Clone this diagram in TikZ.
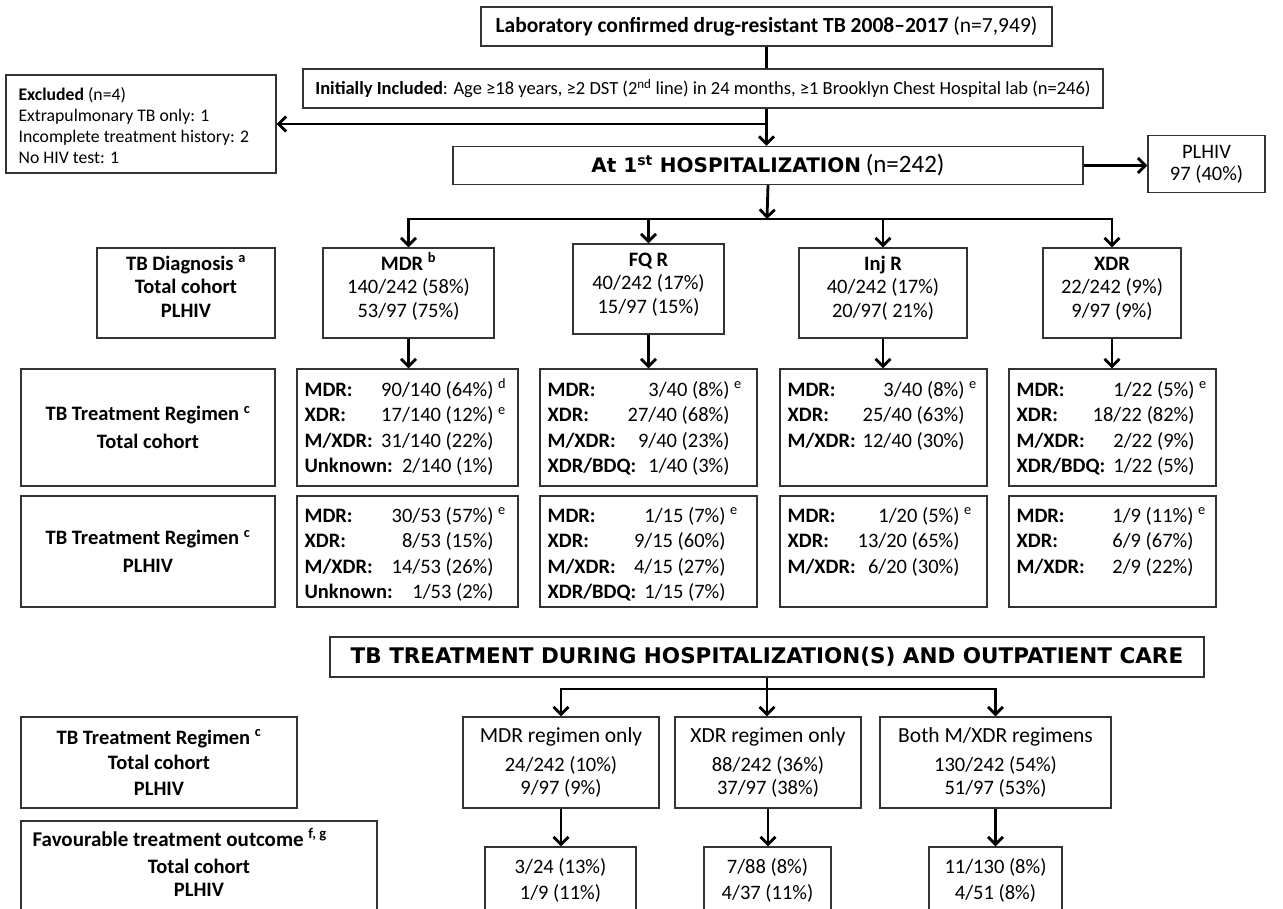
\documentclass[tikz,border=0pt]{standalone}
\usepackage{fontspec}
\setmainfont{Carlito}
\newfontfamily\blackfont{DejaVu Sans}
\usetikzlibrary{arrows.meta}
\newcommand\tabL[1]{\begin{tabular}[t]{@{}l@{}}#1\end{tabular}}
\newcommand\tabC[1]{\begin{tabular}[t]{@{}c@{}}#1\end{tabular}}
\newcommand\rgl[3]{\makebox[#1pt]{\textbf{#2}\hfill #3}}
\newcommand\rgs[4]{\rgl{#1}{#2}{#3}\rlap{\ \textsuperscript{#4}}}
\newcommand\fsb{\fontsize{20.5}{23.5}\selectfont}
\newcommand\fsr{\fontsize{20.5}{25.5}\selectfont}
\newcommand\fsl{\fontsize{20.5}{28}\selectfont}
\newcommand\fst{\fontsize{21.5}{23.5}\selectfont}
\newcommand\fsh{\blackfont\bfseries\fontsize{20}{22}\selectfont}
\newcommand\fsH{\blackfont\bfseries\fontsize{21.5}{23}\selectfont}
\begin{document}
\begin{tikzpicture}[x=1pt,y=-1pt,
  bx/.style={draw=black!80, line width=1.2pt, inner sep=0pt, align=center, font=\fsb},
  txt/.style={inner sep=0pt, font=\fsb},
  rtxt/.style={inner sep=0pt, font=\fsr, anchor=base west},
  ln/.style={line width=2.8pt},
  arr/.style={ln, -{Straight Barb[length=7.5pt,width=15pt]}}]
\useasboundingbox (0,0) rectangle (1283,909);

% top part
\node[bx, minimum width=571, minimum height=39, font=\fontsize{21.5}{24}\selectfont] (lab) at (766.5,26.5) {\textbf{Laboratory confirmed drug-resistant TB 2008–2017} (n=7,949)};
\node[bx, minimum width=800, minimum height=39, font=\fontsize{18.5}{22}\selectfont] (incl) at (703,88.5) {\textbf{Initially Included}: Age ≥18 years, ≥2 DST (2\textsuperscript{nd} line) in 24 months, ≥1 Brooklyn Chest Hospital lab (n=246)};
\node[bx, minimum width=270, minimum height=98] (exc) at (141,124) {};
\node[txt, anchor=base west, font=\fontsize{17.7}{21}\selectfont] (exct) at ([shift={(13,26)}]exc.north west) {\tabL{\textbf{Excluded} (n=4)\\Extrapulmonary TB only: 1\\Incomplete treatment history: 2\\No HIV test: 1}};
\node[bx, minimum width=630, minimum height=38] (hosp) at (768,165.5) {{\fsh At 1\textsuperscript{st} HOSPITALIZATION}\ {\fontsize{25}{25}\selectfont (n=242)}};
\node[bx, minimum width=117, minimum height=57, font=\fontsize{20.5}{22}\selectfont] (plhiv) at (1206.5,164) {PLHIV\\97 (40\%)};

\draw[ln] (lab.south) -- (lab.south |- incl.north);
\draw[arr] (lab.south |- incl.south) -- (lab.south |- hosp.north);
\draw[arr] (lab.south |- exc.east) -- (exc.east);
\draw[arr] (hosp.east) -- (hosp.east -| plhiv.west);

% diagnosis row
\coordinate (bar1) at (767,219);
\node[bx, minimum width=178, minimum height=90] (dlab) at (186,293) {};
\node[bx, minimum width=171, minimum height=90] (dmdr) at (408.5,293) {};
\node[bx, minimum width=151, minimum height=90] (dfq) at (648.5,289) {};
\node[bx, minimum width=168, minimum height=90] (dinj) at (883,293) {};
\node[bx, minimum width=138, minimum height=90] (dxdr) at (1112,293) {};
\node[txt, anchor=base] (dlabt) at ([yshift=-23pt]dlab.north) {\tabC{\textbf{TB Diagnosis \textsuperscript{a}}\\\textbf{Total cohort}\\\textbf{PLHIV}}};
\node[txt, anchor=base] (dmdrt) at ([yshift=-23pt]dmdr.north) {\tabC{\textbf{MDR \textsuperscript{b}}\\140/242 (58\%)\\53/97 (75\%)}};
\node[txt, anchor=base] (dfqt) at ([yshift=-23pt]dfq.north) {\tabC{\textbf{FQ R}\\40/242 (17\%)\\15/97 (15\%)}};
\node[txt, anchor=base] (dinjt) at ([yshift=-23pt]dinj.north) {\tabC{\textbf{Inj R}\\40/242 (17\%)\\20/97( 21\%)}};
\node[txt, anchor=base] (dxdrt) at ([yshift=-23pt]dxdr.north) {\tabC{\textbf{XDR}\\22/242 (9\%)\\9/97 (9\%)}};

\draw[arr] (hosp.south) -- (bar1);
\draw[arr] (bar1) -| (dmdr.north);
\draw[arr] (bar1) -| (dfq.north);
\draw[arr] (bar1) -| (dinj.north);
\draw[arr] (bar1) -| (dxdr.north);

% regimen row, total cohort
\node[bx, minimum width=254, minimum height=117, font=\fsl] (rlab2) at (148,427.5) {\textbf{TB Treatment Regimen \textsuperscript{c}}\\\textbf{Total cohort}};
\node[bx, minimum width=221, minimum height=117] (rmdr2) at (407.5,427.5) {};
\node[bx, minimum width=217, minimum height=117] (rfq2) at (648.5,427.5) {};
\node[bx, minimum width=207, minimum height=117] (rinj2) at (883.5,427.5) {};
\node[bx, minimum width=207, minimum height=117] (rxdr2) at (1112.5,427.5) {};
\node[rtxt] (rmdr2t) at ([shift={(8,28)}]rmdr2.north west) {\tabL{\rgs{189}{MDR:}{90/140 (64\%)}{d}\\\rgs{189}{XDR:}{17/140 (12\%)}{e}\\\rgl{189}{M/XDR:}{31/140 (22\%)}\\\rgl{189}{Unknown:}{2/140 (1\%)}}};
\node[rtxt] (rfq2t) at ([shift={(8,28)}]rfq2.north west) {\tabL{\rgs{182}{MDR:}{3/40 (8\%)}{e}\\\rgl{182}{XDR:}{27/40 (68\%)}\\\rgl{182}{M/XDR:}{9/40 (23\%)}\\\rgl{182}{XDR/BDQ:}{1/40 (3\%)}}};
\node[rtxt] (rinj2t) at ([shift={(8,28)}]rinj2.north west) {\tabL{\rgs{177}{MDR:}{3/40 (8\%)}{e}\\\rgl{177}{XDR:}{25/40 (63\%)}\\\rgl{177}{M/XDR:}{12/40 (30\%)}}};
\node[rtxt] (rxdr2t) at ([shift={(8,28)}]rxdr2.north west) {\tabL{\rgs{178}{MDR:}{1/22 (5\%)}{e}\\\rgl{178}{XDR:}{18/22 (82\%)}\\\rgl{178}{M/XDR:}{2/22 (9\%)}\\\rgl{178}{XDR/BDQ:}{1/22 (5\%)}}};

\draw[arr] (dmdr.south) -- (dmdr.south |- rmdr2.north);
\draw[arr] (dfq.south) -- (dfq.south |- rfq2.north);
\draw[arr] (dinj.south) -- (dinj.south |- rinj2.north);
\draw[arr] (dxdr.south) -- (dxdr.south |- rxdr2.north);

% regimen row, PLHIV
\node[bx, minimum width=254, minimum height=111, font=\fsl] (rlab3) at (148,551.5) {\textbf{TB Treatment Regimen \textsuperscript{c}}\\\textbf{PLHIV}};
\node[bx, minimum width=221, minimum height=111] (rmdr3) at (407.5,551.5) {};
\node[bx, minimum width=217, minimum height=111] (rfq3) at (648.5,551.5) {};
\node[bx, minimum width=207, minimum height=111] (rinj3) at (883.5,551.5) {};
\node[bx, minimum width=207, minimum height=111] (rxdr3) at (1112.5,551.5) {};
\node[rtxt] (rmdr3t) at ([shift={(8,27)}]rmdr3.north west) {\tabL{\rgs{189}{MDR:}{30/53 (57\%)}{e}\\\rgl{189}{XDR:}{8/53 (15\%)}\\\rgl{189}{M/XDR:}{14/53 (26\%)}\\\rgl{189}{Unknown:}{1/53 (2\%)}}};
\node[rtxt] (rfq3t) at ([shift={(8,27)}]rfq3.north west) {\tabL{\rgs{178}{MDR:}{1/15 (7\%)}{e}\\\rgl{178}{XDR:}{9/15 (60\%)}\\\rgl{178}{M/XDR:}{4/15 (27\%)}\\\rgl{178}{XDR/BDQ:}{1/15 (7\%)}}};
\node[rtxt] (rinj3t) at ([shift={(8,27)}]rinj3.north west) {\tabL{\rgs{172}{MDR:}{1/20 (5\%)}{e}\\\rgl{172}{XDR:}{13/20 (65\%)}\\\rgl{172}{M/XDR:}{6/20 (30\%)}}};
\node[rtxt] (rxdr3t) at ([shift={(8,27)}]rxdr3.north west) {\tabL{\rgs{177}{MDR:}{1/9 (11\%)}{e}\\\rgl{177}{XDR:}{6/9 (67\%)}\\\rgl{177}{M/XDR:}{2/9 (22\%)}}};

% treatment during hospitalization
\node[bx, minimum width=874, minimum height=40] (tbt) at (767,657) {\fsH TB TREATMENT DURING HOSPITALIZATION(S) AND OUTPATIENT CARE};
\coordinate (bar2) at (767,689);
\node[bx, minimum width=276, minimum height=91, font=\fontsize{20.5}{25.5}\selectfont] (rlab5) at (159,762.5) {\textbf{TB Treatment Regimen \textsuperscript{c}}\\\textbf{Total cohort}\\\textbf{PLHIV}};
\node[bx, minimum width=196, minimum height=91] (mreg) at (561,762.5) {{\fst MDR regimen only}\\[5pt]24/242 (10\%)\\9/97 (9\%)};
\node[bx, minimum width=186, minimum height=91] (xreg) at (768,762.5) {{\fst XDR regimen only}\\[5pt]88/242 (36\%)\\37/97 (38\%)};
\node[bx, minimum width=231, minimum height=91] (breg) at (995.5,762.5) {{\fst Both M/XDR regimens}\\[5pt]130/242 (54\%)\\51/97 (53\%)};

\draw[arr] (tbt.south) -- (tbt.south |- xreg.north);
\draw[arr] (bar2) -| (mreg.north);
\draw[arr] (bar2) -| (breg.north);

% outcome row
\node[bx, minimum width=356, minimum height=120] (rlab6) at (199,881) {};
\node[txt, anchor=base west, font=\fontsize{21}{24}\selectfont] (rlab6a) at ([shift={(12,26)}]rlab6.north west) {\textbf{Favourable treatment outcome \textsuperscript{f, g}}};
\node[txt, anchor=base] (rlab6b) at ([yshift=-53pt]rlab6.north) {\tabC{\textbf{Total cohort}\\\textbf{PLHIV}}};
\node[bx, minimum width=151, minimum height=100] (o1) at (560.5,897) {};
\node[bx, minimum width=127, minimum height=100] (o2) at (767.5,897) {};
\node[bx, minimum width=133, minimum height=100] (o3) at (995.5,897) {};
\node[txt, anchor=base, font=\fontsize{20.5}{26}\selectfont] (o1t) at ([yshift=-27pt]o1.north) {\tabC{3/24 (13\%)\\1/9 (11\%)}};
\node[txt, anchor=base, font=\fontsize{20.5}{26}\selectfont] (o2t) at ([yshift=-27pt]o2.north) {\tabC{7/88 (8\%)\\4/37 (11\%)}};
\node[txt, anchor=base, font=\fontsize{20.5}{26}\selectfont] (o3t) at ([yshift=-27pt]o3.north) {\tabC{11/130 (8\%)\\4/51 (8\%)}};

\draw[arr] (mreg.south) -- (mreg.south |- o1.north);
\draw[arr] (xreg.south) -- (xreg.south |- o2.north);
\draw[arr] (breg.south) -- (breg.south |- o3.north);
\end{tikzpicture}
\end{document}
